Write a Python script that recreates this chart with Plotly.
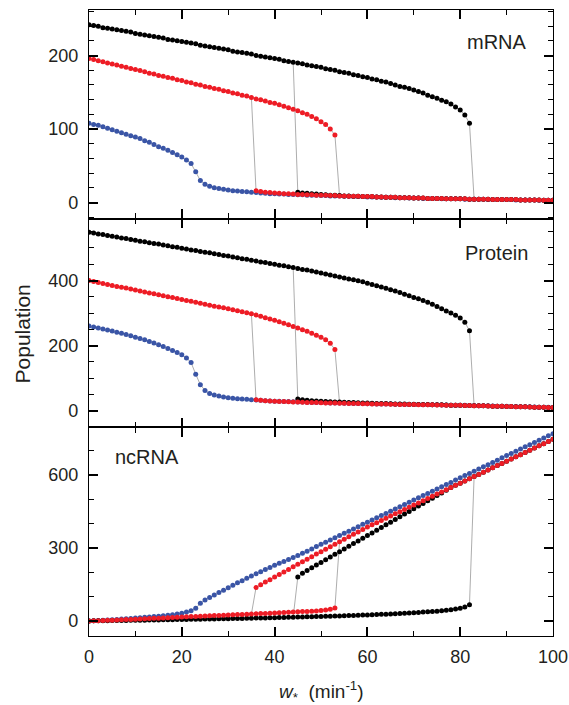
import plotly.graph_objects as go

X = list(range(0, 101))

# Branch switching points (x index)
RED_A_END = 53      # state A (high mRNA / low ncRNA) exists for x = 0..53
RED_B_START = 36    # state B (low mRNA / high ncRNA) exists for x = 36..100
BLACK_A_END = 82
BLACK_B_START = 45

# ---------------- mRNA ----------------
MRNA_BLUE = [108, 106, 105, 103, 101, 99, 97, 95, 93, 91,
             89, 87, 84, 82, 79, 76, 74, 71, 68, 65,
             62, 58, 53, 42, 30, 25, 22, 20, 19, 18,
             17, 16, 15.5, 15, 14.5, 14, 13.5, 13, 12.5, 12,
             12, 11.5, 11.5, 11, 11, 10.5, 10.5, 10, 10, 10,
             9.5, 9.5, 9, 9, 9, 8.5, 8.5, 8, 8, 8,
             7.5, 7.5, 7.5, 7, 7, 7, 6.5, 6.5, 6.5, 6,
             6, 6, 5.5, 5.5, 5.5, 5.5, 5, 5, 5, 5,
             5, 4.5, 4.5, 4.5, 4.5, 4.5, 4, 4, 4, 4,
             4, 4, 3.5, 3.5, 3.5, 3.5, 3.5, 3, 3, 3, 3]
MRNA_RED_A = [196, 194.5, 193, 191.5, 190, 188.5, 187, 185.5, 184, 182.5,
              181, 179.5, 178, 176, 175, 173, 172, 170, 169, 167,
              166, 164, 163, 161, 160, 158, 157, 155, 154, 152,
              151, 149, 148, 146, 145, 143, 141, 140, 138, 136,
              135, 133, 131, 129, 127, 125, 122, 120, 117, 114,
              110, 106, 100, 92]
MRNA_RED_B = [16, 15, 14, 13.5, 13, 12.5, 12, 12, 11.5, 11,
              11, 10.5, 10.5, 10, 10, 10, 9.5, 9.5, 9, 9,
              8.5, 8.5, 8.5, 8, 8, 8, 7.5, 7.5, 7, 7,
              7, 6.5, 6.5, 6.5, 6, 6, 6, 5.5, 5.5, 5.5,
              5.5, 5, 5, 5, 5, 5, 4.5, 4.5, 4.5, 4.5,
              4.5, 4, 4, 4, 4, 4, 4, 3.5, 3.5, 3.5,
              3.5, 3.5, 3, 3, 3]
MRNA_BLACK_A = [242, 241, 240, 238, 237, 236, 235, 234, 233, 232,
                230, 229, 228, 227, 226, 225, 224, 222, 221, 220,
                219, 218, 217, 216, 214, 213, 212, 211, 210, 209,
                208, 206, 205, 204, 203, 202, 200, 199, 198, 197,
                196, 195, 193, 192, 191, 190, 189, 187, 186, 185,
                184, 182, 181, 180, 178, 177, 176, 174, 173, 171,
                170, 168, 167, 165, 164, 162, 160, 158, 157, 155,
                153, 151, 149, 146, 144, 142, 139, 137, 134, 130,
                126, 119, 108]
MRNA_BLACK_B = [14, 13, 12.5, 12, 11.5, 11, 10.5, 10, 10, 9.5,
                9, 9, 8.5, 8.5, 8, 8, 8, 7.5, 7.5, 7,
                7, 7, 6.5, 6.5, 6.5, 6, 6, 6, 5.5, 5.5,
                5.5, 5.5, 5, 5, 5, 5, 5, 4.5, 4.5, 4.5,
                4.5, 4.5, 4, 4, 4, 4, 4, 4, 3.5, 3.5,
                3.5, 3.5, 3.5, 3, 3, 3]

# ---------------- Protein ----------------
PROT_BLUE = [260, 257, 254, 251, 248, 245, 241, 238, 234, 230,
             226, 222, 218, 213, 208, 203, 197, 191, 185, 179,
             172, 162, 148, 112, 80, 62, 53, 48, 45, 42,
             40, 38, 37, 36, 35, 34, 33, 32, 31, 30,
             29.5, 29, 28.5, 28, 27.5, 27, 26.5, 26, 25.5, 25,
             25, 24.5, 24, 24, 23.5, 23, 23, 22.5, 22, 22,
             21.5, 21.5, 21, 21, 20.5, 20.5, 20, 20, 19.5, 19.5,
             19, 19, 18.5, 18.5, 18, 18, 17.5, 17.5, 17, 17,
             16.5, 16.5, 16, 16, 15.5, 15, 15, 14.5, 14, 14,
             13.5, 13, 13, 12.5, 12, 12, 11.5, 11, 11, 10.5, 10]
PROT_RED_A = [400, 397, 394, 391, 388, 385, 382, 379, 377, 374,
              371, 368, 365, 362, 359, 356, 353, 350, 348, 345,
              342, 339, 336, 333, 330, 327, 324, 321, 319, 316,
              313, 310, 307, 304, 301, 298, 294, 290, 286, 282,
              278, 273, 269, 264, 259, 254, 249, 244, 238, 232,
              226, 218, 207, 188]
PROT_RED_B = [34, 32, 31, 30, 29, 28.5, 28, 27.5, 27, 26.5,
              26, 25.5, 25, 25, 24.5, 24, 24, 23.5, 23, 23,
              22.5, 22, 22, 21.5, 21.5, 21, 21, 20.5, 20.5, 20,
              20, 19.5, 19.5, 19, 19, 18.5, 18.5, 18, 18, 17.5,
              17.5, 17, 17, 16.5, 16.5, 16, 16, 15.5, 15, 15,
              14.5, 14, 14, 13.5, 13, 13, 12.5, 12, 12, 11.5,
              11, 11, 10.5, 10, 10]
PROT_BLACK_A = [548, 546, 543, 541, 538, 536, 534, 531, 529, 526,
                524, 521, 519, 516, 514, 512, 509, 507, 504, 502,
                499, 497, 494, 492, 489, 487, 485, 482, 480, 477,
                475, 472, 470, 467, 465, 462, 460, 457, 455, 452,
                450, 447, 445, 442, 440, 437, 434, 432, 429, 426,
                423, 420, 417, 414, 411, 408, 405, 402, 399, 396,
                392, 388, 384, 380, 376, 372, 368, 363, 358, 353,
                348, 344, 339, 333, 327, 320, 313, 306, 300, 293,
                285, 272, 246]
PROT_BLACK_B = [36, 34, 32, 31, 30, 29, 28, 27.5, 27, 26.5,
                26, 25.5, 25, 24.5, 24, 23.5, 23, 22.5, 22, 22,
                21.5, 21, 21, 20.5, 20, 20, 19.5, 19, 19, 18.5,
                18, 18, 17.5, 17, 17, 16.5, 16, 16, 15.5, 15,
                15, 14.5, 14, 14, 13.5, 13, 13, 12.5, 12, 12,
                11.5, 11, 11, 10.5, 10, 10]

# ---------------- ncRNA ----------------
NC_BLUE = [0, 1, 2, 3, 4, 5, 6, 7.5, 9, 10,
           11.5, 13, 14.5, 16, 17.5, 19, 21, 23, 25, 28,
           31, 36, 42, 52, 72, 86, 96, 106, 116, 126,
           136, 146, 156, 165, 175, 184, 193, 202, 211, 219,
           228, 236, 244, 252, 260, 268, 277, 286, 295, 305,
           314, 323, 332, 341, 350, 359, 368, 377, 386, 396,
           405, 414, 423, 432, 441, 450, 459, 468, 477, 487,
           496, 505, 514, 523, 532, 541, 550, 559, 568, 578,
           587, 596, 605, 614, 623, 632, 641, 650, 659, 669,
           678, 687, 696, 705, 714, 723, 732, 741, 750, 759, 768]
NC_RED_A = [0, 0.5, 1, 2, 2.5, 3, 4, 5, 5.5, 6,
            7, 8, 9, 10, 10.5, 11, 12, 13, 14, 15,
            16, 17, 17.5, 18, 19, 20, 21, 22, 22.5, 23,
            24, 25, 26, 26.5, 27, 28, 29, 30, 30.5, 31,
            32, 33, 34, 35, 36, 37, 38, 39, 40, 41,
            43, 45, 48, 53]
NC_RED_B = [137, 148, 159, 169, 180, 190, 201, 211, 222, 232,
            243, 253, 263, 274, 284, 294, 304, 314, 325, 335,
            345, 355, 365, 375, 385, 394, 403, 412, 421, 430,
            439, 448, 457, 466, 475, 484, 493, 502, 511, 520,
            529, 538, 547, 556, 565, 574, 583, 592, 601, 610,
            619, 628, 637, 646, 655, 664, 673, 682, 691, 700,
            709, 718, 727, 736, 745]
NC_BLACK_A = [0, 0.3, 0.5, 0.8, 1, 1.3, 1.5, 1.8, 2, 2.3,
              2.5, 2.8, 3, 3.3, 3.6, 4, 4.3, 4.6, 5, 5.3,
              5.6, 6, 6.3, 6.6, 7, 7.3, 7.6, 8, 8.3, 8.7,
              9, 9.4, 9.8, 10.2, 10.6, 11, 11.4, 11.8, 12.2, 12.6,
              13, 13.5, 14, 14.5, 15, 15.5, 16, 16.5, 17, 17.5,
              18, 18.6, 19.2, 19.8, 20.4, 21, 21.7, 22.4, 23.1, 23.8,
              24.5, 25.3, 26.1, 26.9, 27.7, 28.5, 29.5, 30.5, 31.5, 32.5,
              33.5, 34.7, 36, 37.3, 38.7, 40, 42, 44, 46, 49,
              52, 57, 66]
NC_BLACK_B = [180, 195, 207, 218, 229, 240, 251, 262, 273, 284,
              295, 306, 317, 328, 339, 350, 361, 372, 383, 394,
              405, 416, 427, 438, 449, 460, 471, 482, 493, 503,
              514, 525, 536, 547, 556, 565, 574, 583, 592, 601,
              610, 619, 628, 637, 646, 655, 664, 673, 682, 691,
              700, 709, 718, 727, 736, 745]

PANELS = [
    dict(name="mRNA", blue=MRNA_BLUE, red=(MRNA_RED_A, MRNA_RED_B),
         black=(MRNA_BLACK_A, MRNA_BLACK_B), yrange=[-22, 262], dtick=100, minor=20),
    dict(name="Protein", blue=PROT_BLUE, red=(PROT_RED_A, PROT_RED_B),
         black=(PROT_BLACK_A, PROT_BLACK_B), yrange=[-51, 590], dtick=200, minor=50),
    dict(name="ncRNA", blue=NC_BLUE, red=(NC_RED_A, NC_RED_B),
         black=(NC_BLACK_A, NC_BLACK_B), yrange=[-62, 794], dtick=300, minor=100),
]

BLUE = "#3a55a6"
RED = "#ee1c25"
BLACK = "#000000"
GRAY = "#8a8a8a"
FONT = "Liberation Sans, Arial, sans-serif"
TXT = "#231f20"


def sweeps(a, b, a_end, b_start):
    """forward: state A then jump to B; backward: state B then jump to A"""
    fx = X[:a_end + 1] + X[a_end + 1:]
    fy = list(a) + list(b[a_end + 1 - b_start:])
    bx = X[:b_start] + X[b_start:]
    by = list(a[:b_start]) + list(b)
    return (fx, fy), (bx, by)


fig = go.Figure()
for i, p in enumerate(PANELS, start=1):
    xa = "x" if i == 1 else f"x{i}"
    ya = "y" if i == 1 else f"y{i}"
    # thin connecting lines
    fig.add_trace(go.Scatter(x=X, y=p["blue"], mode="lines",
                             line=dict(color=GRAY, width=0.7), xaxis=xa, yaxis=ya,
                             showlegend=False, hoverinfo="skip"))
    for (a, b), a_end, b_start in [(p["black"], BLACK_A_END, BLACK_B_START),
                                   (p["red"], RED_A_END, RED_B_START)]:
        for sx, sy in sweeps(a, b, a_end, b_start):
            fig.add_trace(go.Scatter(x=sx, y=sy, mode="lines",
                                     line=dict(color=GRAY, width=0.7), xaxis=xa, yaxis=ya,
                                     showlegend=False, hoverinfo="skip"))
    # markers
    fig.add_trace(go.Scatter(x=X, y=p["blue"], mode="markers",
                             marker=dict(color=BLUE, size=5), xaxis=xa, yaxis=ya,
                             showlegend=False))
    for (a, b), a_end, b_start, col in [(p["black"], BLACK_A_END, BLACK_B_START, BLACK),
                                        (p["red"], RED_A_END, RED_B_START, RED)]:
        fig.add_trace(go.Scatter(x=X[:a_end + 1] + X[b_start:], y=list(a) + list(b),
                                 mode="markers", marker=dict(color=col, size=5),
                                 xaxis=xa, yaxis=ya, showlegend=False))

domains = {1: [2 / 3, 1], 2: [1 / 3, 2 / 3], 3: [0, 1 / 3]}
axis_common = dict(showline=True, linecolor="black", linewidth=1.4, mirror="allticks",
                   ticks="inside", tickwidth=1.5, tickcolor="black", showgrid=False,
                   zeroline=False, automargin=False,
                   tickfont=dict(family=FONT, size=18, color=TXT))
layout = {}
for i, p in enumerate(PANELS, start=1):
    xk = "xaxis" if i == 1 else f"xaxis{i}"
    yk = "yaxis" if i == 1 else f"yaxis{i}"
    layout[xk] = dict(axis_common, range=[0, 100], dtick=20, tick0=0, ticklen=9,
                      domain=[0, 1], anchor="y" if i == 1 else f"y{i}",
                      showticklabels=(i == 3), ticklabelstandoff=4,
                      minor=dict(dtick=10, ticks="inside", ticklen=5, tickwidth=1.3,
                                 tickcolor="black"))
    layout[yk] = dict(axis_common, range=p["yrange"], dtick=p["dtick"], tick0=0, ticklen=9,
                      domain=domains[i], anchor="x" if i == 1 else f"x{i}",
                      ticklabelstandoff=6,
                      minor=dict(dtick=p["minor"], ticks="inside", ticklen=5, tickwidth=1.3,
                                 tickcolor="black"))

fig.update_layout(
    width=569, height=705,
    margin=dict(l=89, r=16, t=10, b=69, autoexpand=False),
    paper_bgcolor="white", plot_bgcolor="white",
    **layout,
)

ann_font = dict(family=FONT, size=20, color=TXT)
fig.add_annotation(text="mRNA", xref="paper", yref="paper", x=0.948, y=0.949,
                   xanchor="right", yanchor="middle", showarrow=False, font=ann_font)
fig.add_annotation(text="Protein", xref="paper", yref="paper", x=0.950, y=0.612,
                   xanchor="right", yanchor="middle", showarrow=False, font=ann_font)
fig.add_annotation(text="ncRNA", xref="paper", yref="paper", x=0.052, y=0.286,
                   xanchor="left", yanchor="middle", showarrow=False, font=ann_font)
fig.add_annotation(text="Population", xref="paper", yref="paper", x=-0.144, y=0.482,
                   xanchor="center", yanchor="middle", textangle=-90, showarrow=False,
                   font=dict(family=FONT, size=21, color=TXT))
fig.add_annotation(text="<i>w</i><sub>*</sub>  (min<sup>-1</sup>)", xref="paper", yref="paper",
                   x=0.5, y=-0.089, xanchor="center", yanchor="middle", showarrow=False,
                   font=dict(family=FONT, size=19, color=TXT))

fig.write_html("out.html", config={"displayModeBar": False},
               post_script="document.body.style.margin='0px';document.body.style.overflow='hidden';")
